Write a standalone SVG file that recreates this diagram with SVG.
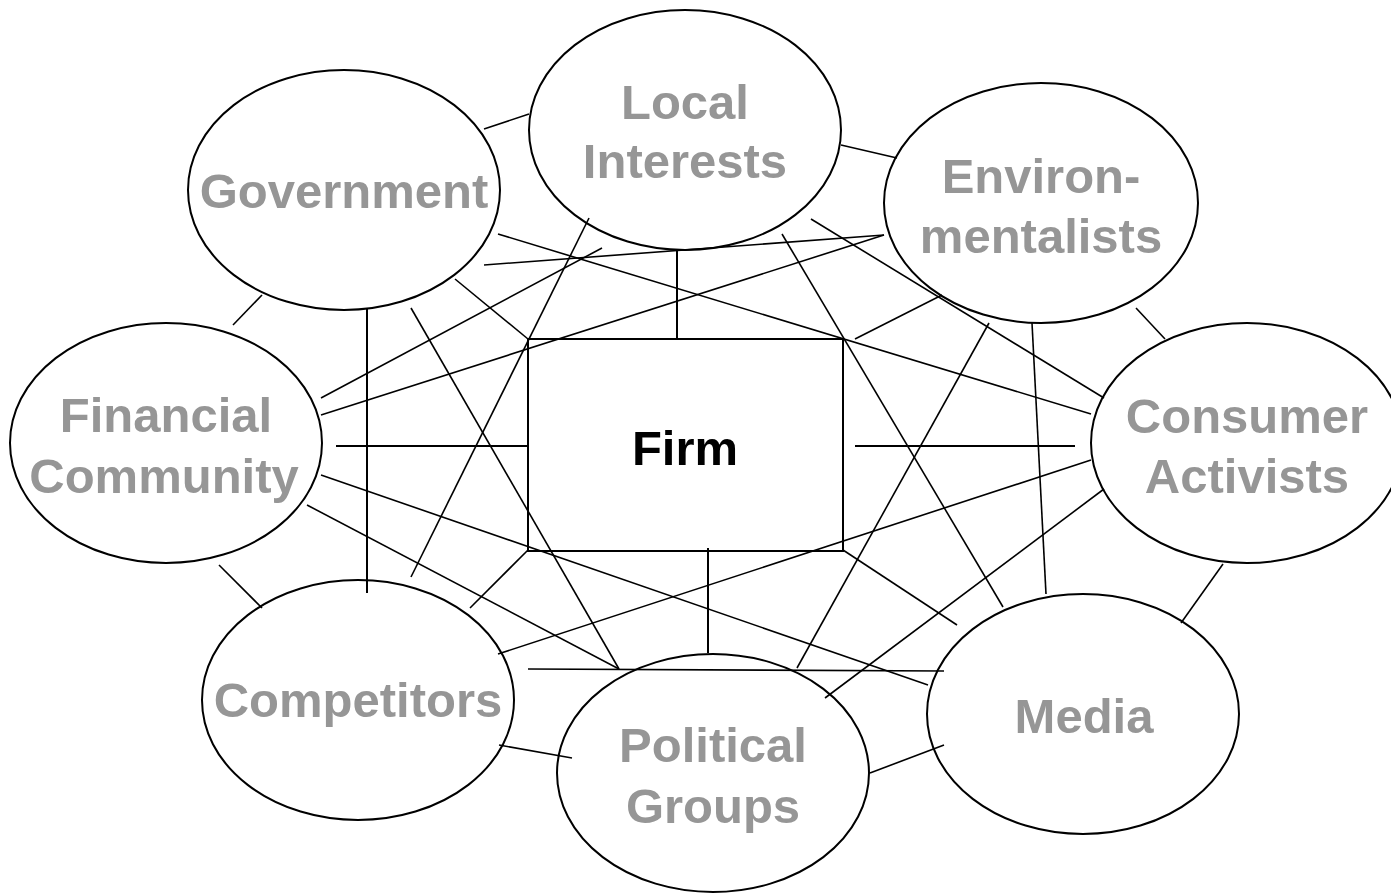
<svg xmlns="http://www.w3.org/2000/svg" width="1391" height="893" viewBox="0 0 1391 893">
<style>
.n{fill:none;stroke:#000;stroke-width:2}
.t{font-family:"Liberation Sans",Arial,sans-serif;font-weight:bold;font-size:49px;fill:#969696;text-anchor:middle}
.f{fill:#000}
.c line{stroke:#000;stroke-width:1.6}
.c line.h{stroke-width:2}
</style>
<rect width="1391" height="893" fill="#fff"/>
<g id="connectors" class="c">
<line x1="484" y1="129" x2="529" y2="114"/>
<line x1="262" y1="295" x2="233" y2="325"/>
<line x1="498" y1="234" x2="1091" y2="414"/>
<line x1="484" y1="265" x2="884" y2="235"/>
<line x1="321" y1="398" x2="602" y2="248"/>
<line x1="321" y1="415" x2="884" y2="235"/>
<line class="h" x1="367" y1="309" x2="367" y2="593"/>
<line x1="411" y1="308" x2="619" y2="669"/>
<line x1="455" y1="279" x2="528" y2="339"/>
<line x1="589" y1="218" x2="411" y2="577"/>
<line class="h" x1="677" y1="249" x2="677" y2="338"/>
<line class="h" x1="336" y1="446" x2="528" y2="446"/>
<line x1="841" y1="145" x2="897" y2="158"/>
<line x1="782" y1="234" x2="1003" y2="607"/>
<line x1="811" y1="219" x2="1104" y2="398"/>
<line x1="942" y1="295" x2="855" y2="339"/>
<line x1="989" y1="323" x2="797" y2="668"/>
<line x1="1032" y1="323" x2="1046" y2="594"/>
<line x1="1136" y1="308" x2="1165" y2="339"/>
<line class="h" x1="855" y1="446" x2="1075" y2="446"/>
<line x1="219" y1="565" x2="262" y2="608"/>
<line x1="321" y1="475" x2="928" y2="685"/>
<line x1="307" y1="505" x2="619" y2="669"/>
<line x1="528" y1="550" x2="470" y2="608"/>
<line x1="498" y1="654" x2="1091" y2="460"/>
<line x1="528" y1="669" x2="944" y2="671"/>
<line x1="499" y1="745" x2="572" y2="758"/>
<line class="h" x1="708" y1="548" x2="708" y2="653"/>
<line x1="843" y1="550" x2="957" y2="625"/>
<line x1="1104" y1="489" x2="825" y2="698"/>
<line x1="1223" y1="564" x2="1181" y2="623"/>
<line x1="870" y1="773" x2="944" y2="745"/>
</g>
<g id="firm">
<rect class="n" x="528" y="339" width="315" height="212"/>
<text class="t f" x="685" y="465">Firm</text>
</g>
<g id="local-interests">
<ellipse class="n" cx="685" cy="130" rx="156" ry="120"/>
<text class="t" x="685" y="119">Local</text>
<text class="t" x="685" y="178">Interests</text>
</g>
<g id="government">
<ellipse class="n" cx="344" cy="190" rx="156" ry="120"/>
<text class="t" x="344" y="208">Government</text>
</g>
<g id="environmentalists">
<ellipse class="n" cx="1041" cy="203" rx="157" ry="120"/>
<text class="t" x="1041" y="193">Environ-</text>
<text class="t" x="1041" y="253">mentalists</text>
</g>
<g id="financial-community">
<ellipse class="n" cx="166" cy="443" rx="156" ry="120"/>
<text class="t" x="166" y="432">Financial</text>
<text class="t" x="164" y="493">Community</text>
</g>
<g id="consumer-activists">
<ellipse class="n" cx="1247" cy="443" rx="156" ry="120"/>
<text class="t" x="1247" y="433">Consumer</text>
<text class="t" x="1247" y="493">Activists</text>
</g>
<g id="competitors">
<ellipse class="n" cx="358" cy="700" rx="156" ry="120"/>
<text class="t" x="358" y="717">Competitors</text>
</g>
<g id="political-groups">
<ellipse class="n" cx="713" cy="773" rx="156" ry="119"/>
<text class="t" x="713" y="762">Political</text>
<text class="t" x="713" y="823">Groups</text>
</g>
<g id="media">
<ellipse class="n" cx="1083" cy="714" rx="156" ry="120"/>
<text class="t" x="1084" y="733">Media</text>
</g>
</svg>
